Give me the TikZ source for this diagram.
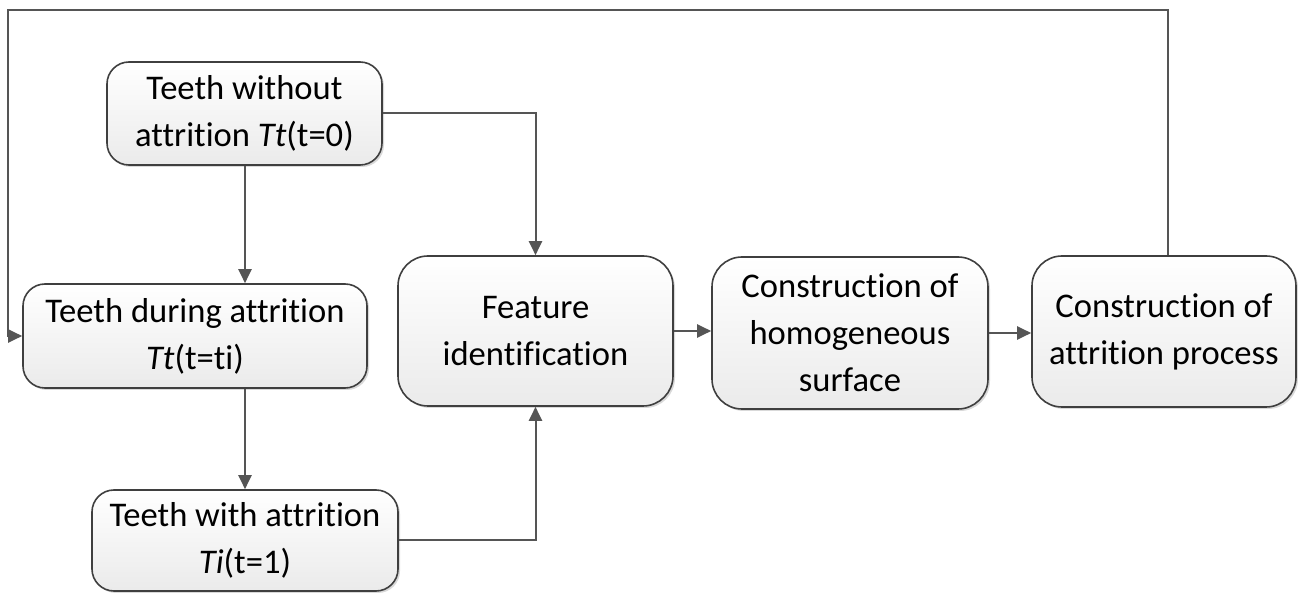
\documentclass[tikz,border=0pt]{standalone}
\usepackage{fontspec}
\setmainfont{Carlito}[Ligatures={NoCommon}]
\usetikzlibrary{arrows.meta,shadows}
\definecolor{linec}{HTML}{555555}
\definecolor{boxc}{HTML}{3F3F3F}
\tikzset{
  px/.style={x=0.5pt,y=-0.5pt},
  boxbase/.style={draw=boxc, line width=0.8pt, top color=white, bottom color=black!8,
    align=center, font=\fontsize{17.3}{23.5}\selectfont, inner sep=0pt,
    drop shadow={shadow xshift=1pt, shadow yshift=-1pt, opacity=0.25, fill=black!60}},
  smallbox/.style={boxbase, rounded corners=11pt},
  bigbox/.style={boxbase, rounded corners=15pt},
  conn/.style={draw=linec, line width=1pt, -{Triangle[length=7pt,width=6.5pt]}},
}
\begin{document}
\begin{tikzpicture}[px]
\useasboundingbox (0,0) rectangle (1298,593);
\node[smallbox, minimum width=137.5pt, minimum height=51.5pt] (A) at (244.5,113.5)
  {Teeth without\\attrition \textit{Tt}(t=0)};
\node[smallbox, minimum width=172pt, minimum height=52pt] (B) at (195,336)
  {Teeth during attrition\\\textit{Tt}(t=ti)};
\node[smallbox, minimum width=153pt, minimum height=50.5pt] (C) at (245,540.5)
  {Teeth with attrition\\\textit{Ti}(t=1)};
\node[bigbox, minimum width=137.5pt, minimum height=75pt] (D) at (535.5,331)
  {Feature\\identification};
\node[bigbox, minimum width=138pt, minimum height=76pt] (E) at (850,333)
  {Construction of\\homogeneous\\surface};
\node[bigbox, minimum width=132pt, minimum height=75.5pt] (F) at (1164,331.5)
  {Construction of\\attrition process};
\coordinate (top) at (1168,10);
\coordinate (left) at (8,10);
\draw[conn] (F.north -| top) -- (top) -- (left) |- (B.west);
\draw[conn] (A.south -| 245,0) -- (B.north -| 245,0);
\draw[conn] (B.south -| 245,0) -- (C.north -| 245,0);
\draw[conn] (A.east) -| (D.north);
\draw[conn] (C.east) -| (D.south);
\draw[conn] (D.east) -- (E.west |- D.east);
\draw[conn] (E.east) -- (F.west |- E.east);
\end{tikzpicture}
\end{document}
